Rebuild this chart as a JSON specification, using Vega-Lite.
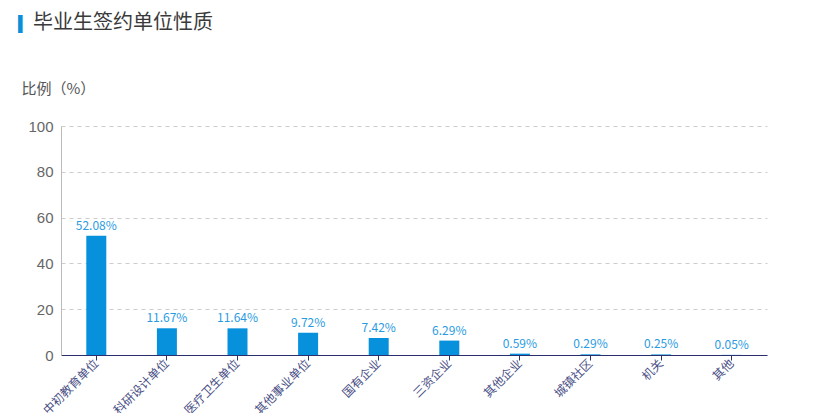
{
  "$schema": "https://vega.github.io/schema/vega-lite/v6.json",
  "width": 706,
  "height": 229,
  "autosize": "none",
  "padding": {"left": 61, "top": 126, "right": 56, "bottom": 58},
  "background": "white",
  "title": {
    "text": "▎",
    "subtitle": "\u2800毕业生签约单位性质",
    "anchor": "start",
    "frame": "group",
    "orient": "top",
    "dx": -43,
    "offset": 42,
    "fontSize": 18,
    "color": "#0a8fdb",
    "font": "Noto Sans CJK SC",
    "fontWeight": "normal",
    "subtitleFont": "Noto Sans CJK SC",
    "subtitleFontSize": 20,
    "subtitleFontWeight": "normal",
    "subtitleColor": "#3a3a3a",
    "subtitlePadding": -22
  },
  "data": {
    "values": [
      {"type": "中初教育单位", "pct": 52.08, "label": "52.08%"},
      {"type": "科研设计单位", "pct": 11.67, "label": "11.67%"},
      {"type": "医疗卫生单位", "pct": 11.64, "label": "11.64%"},
      {"type": "其他事业单位", "pct": 9.72, "label": "9.72%"},
      {"type": "国有企业", "pct": 7.42, "label": "7.42%"},
      {"type": "三资企业", "pct": 6.29, "label": "6.29%"},
      {"type": "其他企业", "pct": 0.59, "label": "0.59%"},
      {"type": "城镇社区", "pct": 0.29, "label": "0.29%"},
      {"type": "机关", "pct": 0.25, "label": "0.25%"},
      {"type": "其他", "pct": 0.05, "label": "0.05%"}
    ]
  },
  "encoding": {
    "x": {
      "field": "type",
      "type": "nominal",
      "sort": null,
      "scale": {"paddingInner": 0, "paddingOuter": 0},
      "axis": {
        "title": null,
        "labelAngle": -45,
        "labelAlign": "right",
        "labelBaseline": "middle",
        "labelFontSize": 12,
        "labelColor": "#4a4f86",
        "labelFont": "Noto Sans CJK SC",
        "domainColor": "#2b2f6e",
        "tickColor": "#2b2f6e",
        "tickSize": 5,
        "labelPadding": 1,
        "grid": false
      }
    },
    "y": {
      "field": "pct",
      "type": "quantitative",
      "scale": {"domain": [0, 100]},
      "axis": {
        "title": "比例（%）",
        "titleAngle": 0,
        "titleAlign": "left",
        "titleBaseline": "middle",
        "titleX": -40,
        "titleY": -38,
        "titleFontSize": 15,
        "titleFontWeight": "normal",
        "titleColor": "#555555",
        "titleFont": "Noto Sans CJK SC",
        "values": [0, 20, 40, 60, 80, 100],
        "labelFontSize": 15,
        "labelColor": "#666666",
        "labelPadding": 8,
        "ticks": false,
        "domainColor": "#bbbbbb",
        "gridColor": "#cccccc",
        "gridDash": [4, 4]
      }
    }
  },
  "layer": [
    {"mark": {"type": "bar", "size": 20, "color": "#0791dc"}},
    {
      "mark": {"type": "text", "dy": -10, "fontSize": 12, "color": "#2a9be3", "font": "Noto Sans CJK SC"},
      "encoding": {"text": {"field": "label"}}
    }
  ],
  "config": {"view": {"stroke": null}}
}
